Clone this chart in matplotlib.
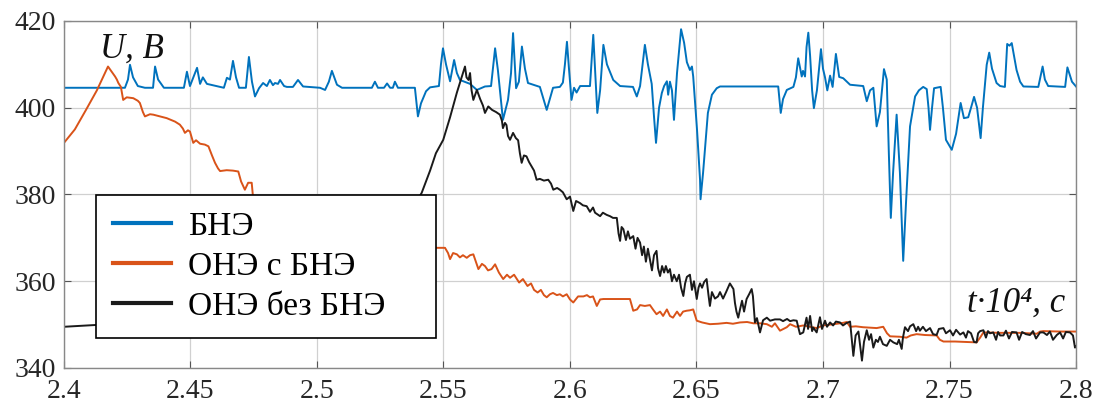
import matplotlib
matplotlib.use("Agg")
import matplotlib.pyplot as plt
import numpy as np

plt.rcParams['font.family'] = ['Liberation Serif', 'DejaVu Serif']

# ---------------- data ----------------
labels = ["БНЭ", "ОНЭ с БНЭ", "ОНЭ без БНЭ"]
colors = ["#0072BD", "#D95319", "#1a1a1a"]

xticks = [2.4, 2.45, 2.5, 2.55, 2.6, 2.65, 2.7, 2.75, 2.8]
xtick_labels = ["2.4", "2.45", "2.5", "2.55", "2.6", "2.65", "2.7", "2.75", "2.8"]
yticks = [340, 360, 380, 400, 420]

t_bne = [2.4, 2.4241, 2.4253, 2.4261, 2.4273, 2.4292, 2.4320, 2.4352, 2.4360, 2.4372, 2.4395,
         2.4474, 2.4486, 2.4498, 2.4526, 2.4538, 2.4549, 2.4565, 2.4632, 2.4644, 2.4656, 2.4668,
         2.4680, 2.4692, 2.4719, 2.4731, 2.4743, 2.4755, 2.4771, 2.4787, 2.4802, 2.4814, 2.4826,
         2.4834, 2.4846, 2.4854, 2.4870, 2.4881, 2.4905, 2.4925, 2.4945, 2.5012, 2.5032, 2.5047,
         2.5059, 2.5079, 2.5099, 2.5217, 2.5229, 2.5241, 2.5265, 2.5277, 2.5289, 2.5300, 2.5308,
         2.5320, 2.5387, 2.5399, 2.5411, 2.5431, 2.5447, 2.5482, 2.5490, 2.5498, 2.5510, 2.5526,
         2.5542, 2.5553, 2.5565, 2.5605, 2.5632, 2.5664, 2.5688, 2.5704, 2.5715, 2.5735, 2.5755,
         2.5767, 2.5775, 2.5787, 2.5798, 2.5810, 2.5822, 2.5834, 2.5881, 2.5908, 2.5933, 2.5960,
         2.5972, 2.5980, 2.5988, 2.5996, 2.6006, 2.6016, 2.6026, 2.6040, 2.6079, 2.6092, 2.6108,
         2.6119, 2.6132, 2.6146, 2.6171, 2.6198, 2.6249, 2.6264, 2.6277, 2.6296, 2.6308, 2.6323,
         2.6332, 2.6340, 2.6352, 2.6363, 2.6372, 2.6383, 2.6388, 2.6395, 2.6403, 2.6411, 2.6423,
         2.6439, 2.6451, 2.6462, 2.6474, 2.6482, 2.6487, 2.6502, 2.6514, 2.6516, 2.6526, 2.6545,
         2.6561, 2.6580, 2.6593, 2.6823, 2.6833, 2.6842, 2.6857, 2.6883, 2.6893, 2.6902, 2.6916,
         2.6921, 2.6929, 2.6935, 2.6942, 2.6949, 2.6957, 2.6964, 2.6976, 2.6992, 2.7000, 2.7008,
         2.7017, 2.7028, 2.7038, 2.7051, 2.7064, 2.7080, 2.7107, 2.7159, 2.7173, 2.7186, 2.7199,
         2.7212, 2.7225, 2.7241, 2.7252, 2.7260, 2.7268, 2.7277, 2.7291, 2.7304, 2.7317, 2.7328,
         2.7344, 2.7364, 2.7379, 2.7396, 2.7410, 2.7417, 2.7423, 2.7431, 2.7439, 2.7465, 2.7474,
         2.7486, 2.7509, 2.7526, 2.7544, 2.7557, 2.7574, 2.7585, 2.7597, 2.7609, 2.7623, 2.7632,
         2.7647, 2.7657, 2.7668, 2.7686, 2.7700, 2.7719, 2.7728, 2.7737, 2.7746, 2.7765, 2.7779,
         2.7792, 2.7851, 2.7868, 2.7877, 2.7890, 2.7957, 2.7966, 2.7984, 2.8]
u_bne = [404.6, 404.6, 406.5, 409.9, 407.0, 405.0, 404.6, 404.6, 409.5, 406.5, 404.6,
         404.6, 408.3, 405.0, 409.2, 405.5, 407.0, 405.5, 404.6, 406.9, 406.5, 410.8,
         407.0, 404.6, 404.6, 411.7, 406.0, 402.6, 404.5, 405.7, 405.0, 406.4, 405.2,
         405.7, 405.5, 406.4, 405.0, 404.8, 404.8, 406.4, 404.9, 404.6, 404.1, 406.0,
         408.5, 405.3, 404.6, 404.6, 406.0, 404.6, 404.6, 405.6, 404.6, 404.6, 406.0,
         404.6, 404.6, 398.0, 401.0, 403.8, 404.7, 405.0, 410.0, 413.7, 410.0, 406.1,
         411.0, 408.0, 406.4, 405.5, 404.1, 404.9, 405.0, 413.7, 408.7, 397.2, 401.8,
         408.0, 417.2, 404.5, 406.0, 414.1, 409.0, 405.7, 404.8, 399.5, 404.6, 404.8,
         405.8, 410.0, 415.2, 409.0, 401.8, 404.6, 403.5, 405.0, 405.0, 416.8, 398.8,
         404.0, 414.5, 410.0, 406.4, 405.0, 404.8, 402.6, 405.0, 414.5, 410.0, 405.5,
         398.0, 391.9, 400.0, 403.4, 405.0, 406.1, 403.0, 406.0, 404.0, 397.2, 408.0,
         418.1, 415.0, 410.5, 408.7, 409.5, 407.2, 395.0, 383.4, 378.9, 385.0, 398.8,
         403.0, 404.5, 404.9, 404.9, 398.8, 402.0, 404.1, 404.8, 407.0, 411.4, 407.2,
         408.5, 407.2, 414.0, 417.3, 412.0, 404.0, 399.9, 404.0, 413.5, 409.0, 407.0,
         404.0, 407.4, 404.8, 412.4, 407.1, 406.8, 405.3, 405.0, 401.5, 404.0, 404.6,
         395.7, 399.0, 408.9, 406.5, 390.0, 374.6, 385.0, 398.4, 385.0, 364.7, 378.0,
         395.7, 402.6, 404.0, 404.8, 404.3, 400.0, 394.9, 400.0, 404.5, 404.8, 400.0,
         392.6, 390.3, 394.0, 401.1, 397.6, 397.8, 400.0, 402.5, 400.0, 393.0, 400.0,
         409.9, 412.7, 409.0, 405.7, 405.0, 404.8, 414.7, 414.3, 414.9, 408.7, 406.0,
         404.9, 404.8, 409.5, 406.5, 405.0, 404.8, 409.3, 406.0, 404.9]

t_one = [2.4, 2.4043, 2.4087, 2.4130, 2.4158, 2.4174, 2.4186, 2.4194, 2.4202, 2.4209, 2.4215,
         2.4225, 2.4234, 2.4248, 2.4274, 2.4292, 2.4300, 2.4312, 2.4320, 2.4340, 2.4353, 2.4379,
         2.4406, 2.4439, 2.4458, 2.4470, 2.4478, 2.4490, 2.4498, 2.4511, 2.4522, 2.4538, 2.4557,
         2.4571, 2.4585, 2.4597, 2.4609, 2.4617, 2.4643, 2.4668, 2.4689, 2.4700, 2.4715, 2.4728,
         2.4742, 2.4748, 2.48, 2.50, 2.52, 2.54, 2.5473, 2.5506, 2.5518, 2.5526, 2.5538, 2.5553,
         2.5565, 2.5577, 2.5592, 2.5605, 2.5618, 2.5628, 2.5638, 2.5652, 2.5664, 2.5676, 2.5690,
         2.5704, 2.5719, 2.5736, 2.5751, 2.5763, 2.5779, 2.5799, 2.5814, 2.5832, 2.5846, 2.5858,
         2.5872, 2.5885, 2.5897, 2.5908, 2.5921, 2.5933, 2.5948, 2.5960, 2.5972, 2.5987, 2.6,
         2.6013, 2.6032, 2.6053, 2.6067, 2.6079, 2.6091, 2.6106, 2.6119, 2.6132, 2.6178, 2.6237,
         2.6250, 2.6265, 2.6277, 2.6296, 2.6316, 2.6328, 2.6342, 2.6356, 2.6368, 2.6383, 2.6395,
         2.6407, 2.6423, 2.6435, 2.6447, 2.6461, 2.6474, 2.6487, 2.6501, 2.6522, 2.6553, 2.6585,
         2.6619, 2.6644, 2.6672, 2.6700, 2.6725, 2.6751, 2.6778, 2.6798, 2.6810, 2.6830, 2.6857,
         2.6870, 2.6893, 2.6922, 2.6949, 2.6975, 2.7, 2.7028, 2.7055, 2.7079, 2.7094, 2.7107,
         2.7130, 2.7158, 2.7186, 2.7212, 2.7238, 2.7253, 2.7265, 2.7304, 2.7330, 2.7347, 2.7370,
         2.7403, 2.7449, 2.7462, 2.7476, 2.7522, 2.7561, 2.7607, 2.7621, 2.7634, 2.7700, 2.7779,
         2.7845, 2.7858, 2.7871, 2.7937, 2.8]
u_one = [391.9, 395.0, 399.5, 404.0, 407.5, 409.5, 408.5, 407.8, 407.2, 406.5, 405.7,
         404.8, 401.8, 402.4, 402.2, 401.6, 401.1, 399.0, 398.0, 398.5, 398.4, 398.0,
         397.6, 396.8, 396.1, 395.2, 394.2, 394.8, 394.5, 391.9, 392.5, 391.7, 391.5,
         391.1, 389.0, 387.3, 386.0, 385.4, 385.6, 385.5, 385.3, 383.0, 381.1, 382.7,
         382.7, 378.9, 377.0, 373.0, 370.5, 368.5, 367.7, 367.7, 366.5, 365.1, 366.5, 366.2,
         365.5, 366.0, 365.4, 366.0, 366.2, 364.5, 362.8, 364.0, 363.5, 362.5, 362.8,
         363.9, 362.0, 360.5, 361.5, 360.8, 361.5, 359.7, 360.5, 358.9, 359.5, 358.0,
         357.4, 358.0, 356.8, 356.3, 357.0, 357.3, 356.8, 357.0, 356.5, 357.0, 355.8,
         355.1, 356.5, 356.5, 356.8, 356.3, 356.5, 354.3, 355.8, 355.9, 355.9, 355.9,
         353.2, 353.5, 354.5, 354.3, 354.5, 353.5, 352.4, 353.0, 352.0, 353.5, 352.0,
         351.6, 353.0, 352.0, 353.0, 353.2, 353.3, 353.5, 350.9, 350.5, 350.1, 350.2,
         350.4, 350.2, 350.5, 350.6, 350.3, 350.3, 350.1, 349.5, 350.3, 348.6, 349.4,
         350.1, 349.5, 349.8, 349.5, 349.2, 349.8, 350.0, 350.2, 350.4, 350.6, 349.5,
         349.6, 349.4, 349.3, 349.2, 349.5, 348.0, 347.3, 347.2, 347.0, 347.5, 347.8,
         347.6, 347.5, 346.5, 346.1, 346.1, 346.0, 345.9, 347.0, 348.2, 348.1, 348.1,
         347.9, 348.4, 348.5, 348.4, 348.4]

t_one_nb = [2.4, 2.4123, 2.4182, 2.43, 2.45, 2.47, 2.49, 2.51, 2.525, 2.535, 2.5414, 2.5447,
            2.5470, 2.5499, 2.5526, 2.5553, 2.5585, 2.5591, 2.5599, 2.5605, 2.5611, 2.5618,
            2.5632, 2.5645, 2.5656, 2.5664, 2.5677, 2.5692, 2.5708, 2.5723, 2.5731, 2.5735,
            2.5743, 2.5749, 2.5755, 2.5763, 2.5775, 2.5786, 2.5795, 2.5802, 2.5809, 2.5818,
            2.5828, 2.5838, 2.5848, 2.5858, 2.5868, 2.5881, 2.5897, 2.5914, 2.5925, 2.5934,
            2.5949, 2.5960, 2.5972, 2.5987, 2.6, 2.6013, 2.6024, 2.6040, 2.6051, 2.6066,
            2.6079, 2.6091, 2.6099, 2.6119, 2.6130, 2.6145, 2.6158, 2.6170, 2.6185, 2.6192,
            2.6198, 2.6204, 2.6211, 2.6221, 2.6229, 2.6237, 2.6250, 2.6259, 2.6267, 2.6277,
            2.6285, 2.6292, 2.6300, 2.6308, 2.6316, 2.6324, 2.6332, 2.6342, 2.6348, 2.6356,
            2.6364, 2.6372, 2.6379, 2.6387, 2.6395, 2.6403, 2.6411, 2.6422, 2.6431, 2.6439,
            2.6448, 2.6455, 2.6462, 2.6474, 2.6482, 2.6490, 2.6501, 2.6508, 2.6514, 2.6522,
            2.6530, 2.6540, 2.6547, 2.6553, 2.6561, 2.6573, 2.6585, 2.6593, 2.6605, 2.6617,
            2.6632, 2.6646, 2.6652, 2.6658, 2.6665, 2.6672, 2.6680, 2.6688, 2.6698, 2.6708,
            2.6718, 2.6723, 2.6731, 2.6739, 2.6751, 2.6763, 2.6778, 2.6791, 2.6810, 2.6830,
            2.6842, 2.6858, 2.6870, 2.6883, 2.6896, 2.6909, 2.6922, 2.6935, 2.6941, 2.6949,
            2.6957, 2.6962, 2.6975, 2.6988, 2.6996, 2.7008, 2.7016, 2.7028, 2.7040, 2.7051,
            2.7067, 2.7079, 2.7091, 2.7107, 2.7113, 2.7120, 2.7129, 2.7140, 2.7146, 2.7154,
            2.7162, 2.7173, 2.7182, 2.7190, 2.7199, 2.7209, 2.7217, 2.7225, 2.7237, 2.7252,
            2.7265, 2.7278, 2.7293, 2.7300, 2.7311, 2.7316, 2.7324, 2.7336, 2.7344, 2.7357,
            2.7368, 2.7376, 2.7383, 2.7395, 2.7407, 2.7423, 2.7435, 2.7449, 2.7458, 2.7476,
            2.7486, 2.7502, 2.7514, 2.7526, 2.7542, 2.7555, 2.7565, 2.7573, 2.7585, 2.7597,
            2.7607, 2.7613, 2.7621, 2.7634, 2.7644, 2.7652, 2.7660, 2.7673, 2.7684, 2.7692,
            2.7700, 2.7713, 2.7723, 2.7735, 2.7747, 2.7765, 2.7775, 2.7787, 2.7802, 2.7818,
            2.7830, 2.7842, 2.7858, 2.7871, 2.7885, 2.7897, 2.7909, 2.7924, 2.7937, 2.7949,
            2.7960, 2.7976, 2.7988, 2.7996, 2.8]
u_one_nb = [349.5, 349.9, 350.1, 350.4, 352.0, 354.5, 358.0, 363.0, 368.5, 374.0, 380.4, 385.5,
            389.5, 392.6, 397.8, 403.5, 409.5, 407.0, 406.4, 408.0, 404.0, 401.8,
            404.1, 402.0, 400.5, 398.8, 400.3, 399.5, 399.0, 398.4, 397.0, 395.3,
            396.5, 396.0, 393.5, 392.6, 394.2, 393.0, 392.5, 389.5, 387.3, 389.0,
            388.8, 387.5, 386.5, 385.5, 383.4, 383.6, 383.2, 383.4, 382.5, 381.1,
            381.5, 381.1, 380.5, 378.9, 379.5, 376.2, 378.5, 378.0, 377.5, 377.3,
            376.0, 377.0, 375.8, 375.0, 375.8, 375.3, 375.0, 374.6, 374.6, 371.0,
            369.3, 372.5, 372.0, 369.5, 371.5, 369.8, 370.4, 367.5, 370.0, 368.9,
            366.0, 368.0, 364.5, 367.5, 365.0, 362.5, 366.0, 367.0, 363.0, 361.2,
            363.5, 362.0, 363.5, 362.0, 362.8, 360.0, 361.5, 360.0, 361.5, 358.5,
            356.6, 359.5, 361.0, 361.5, 358.0, 360.0, 355.9, 358.5, 359.5, 358.5,
            359.8, 360.5, 357.0, 354.3, 357.5, 356.0, 356.5, 357.5, 356.0, 357.5,
            359.5, 358.2, 355.0, 353.0, 351.6, 353.5, 355.5, 353.0, 355.9, 357.0,
            358.2, 356.6, 350.5, 351.5, 348.2, 351.0, 351.6, 350.9, 351.2, 351.2,
            350.8, 351.3, 350.8, 351.0, 350.9, 347.8, 348.2, 351.6, 349.0, 352.0,
            348.5, 349.3, 348.2, 351.7, 349.0, 350.9, 349.5, 350.5, 349.8, 350.7,
            350.5, 349.8, 350.3, 350.7, 347.0, 342.8, 347.5, 348.4, 345.5, 341.7,
            346.0, 348.7, 346.5, 347.8, 344.7, 346.5, 346.0, 347.2, 345.5, 345.1,
            346.5, 345.9, 345.5, 346.5, 344.4, 347.0, 349.4, 348.5, 349.6, 350.1,
            348.5, 349.5, 348.6, 349.5, 348.5, 349.2, 347.8, 347.6, 349.0, 349.2,
            348.0, 348.7, 347.5, 348.8, 347.7, 348.2, 347.0, 348.5, 348.0, 346.0,
            345.9, 348.0, 348.5, 348.7, 347.0, 348.5, 348.0, 348.2, 346.5, 348.3,
            347.5, 347.5, 348.6, 346.8, 348.3, 348.2, 346.5, 348.3, 347.8, 347.6,
            348.5, 346.8, 348.2, 348.2, 347.6, 348.4, 346.5, 347.6, 348.2, 346.8,
            348.3, 348.2, 347.5, 344.7, 345.0]

# ---------------- figure ----------------
fig = plt.figure(figsize=(11.01, 4.05), dpi=100)
ax = fig.add_axes([0.0581, 0.0914, 0.9192, 0.8568])

series = [(t_bne, u_bne), (t_one, u_one), (t_one_nb, u_one_nb)]
for (t, u), lab, col in zip(series, labels, colors):
    ax.plot(t, u, color=col, lw=1.4, label=lab)

ax.set_xlim(2.4, 2.8)
ax.set_ylim(340, 420)
ax.set_xticks(xticks)
ax.set_xticklabels(xtick_labels)
ax.set_yticks(yticks)
ax.grid(True, color="#d0d0d0", lw=0.9)
ax.set_axisbelow(True)
ax.tick_params(direction="in", top=True, right=True, labelsize=20, length=5,
               color="#555555", labelcolor="#262626")
ax.tick_params(axis="x", pad=8)
ax.tick_params(axis="y", pad=6)
for s in ax.spines.values():
    s.set_color("#888888")
    s.set_linewidth(1.0)

ax.text(2.4142, 411.5, "U, B", fontsize=25, style="italic", ha="left", va="baseline",
        color="#111111")
ax.text(2.7957, 352.9, "t·10⁴, c", fontsize=25, style="italic", ha="right", va="baseline",
        color="#111111")

leg = ax.legend(loc="upper left", bbox_to_anchor=(0.0316, 0.0836, 0.336, 0.415),
                mode="expand", fontsize=24,
                frameon=True, fancybox=False, edgecolor="black", framealpha=1,
                handlelength=1.75, handletextpad=0.5, labelspacing=0.28, borderpad=0.5,
                borderaxespad=0)
leg.get_frame().set_linewidth(1.2)
leg.set_zorder(10)
for h in leg.get_lines():
    h.set_linewidth(3)

fig.savefig("out.png", dpi=100)
